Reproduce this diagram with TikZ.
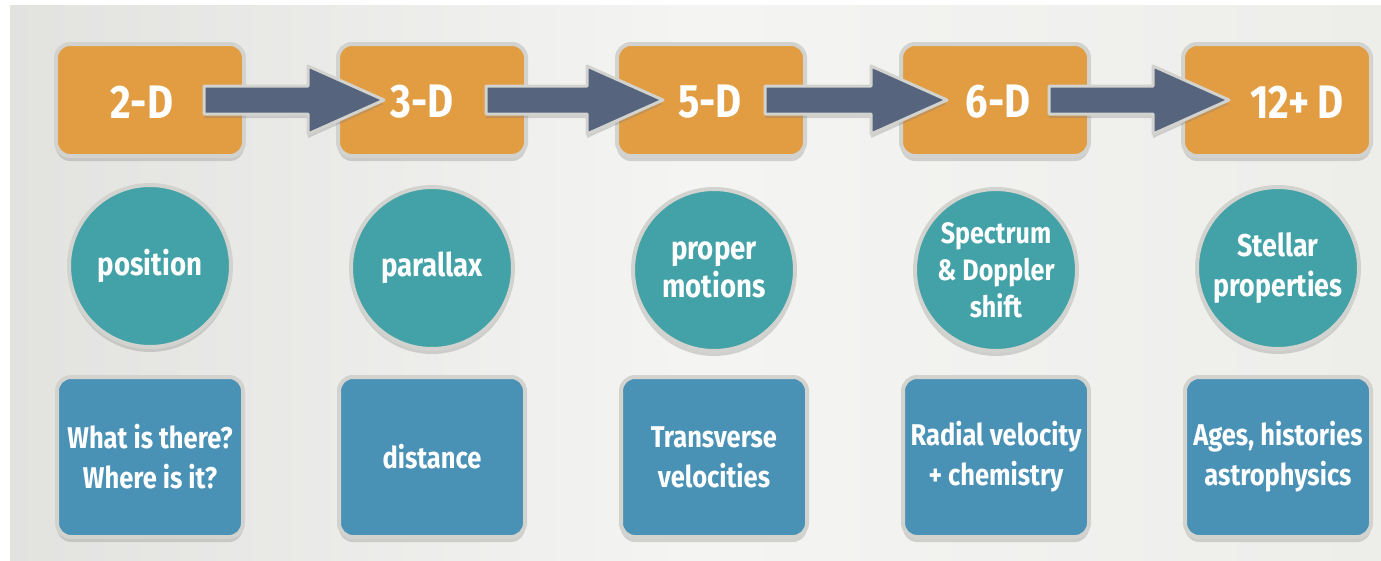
\documentclass[tikz,border=0pt]{standalone}
\usepackage{fontspec}
\setmainfont{Fira Sans}[FakeStretch=0.85]
\usetikzlibrary{shadows,calc}
\definecolor{bg}{HTML}{EDEDEA}
\definecolor{orng}{HTML}{E29C42}
\definecolor{teal2}{HTML}{43A2A7}
\definecolor{blu}{HTML}{4A91B6}
\definecolor{arrc}{HTML}{56647E}
\definecolor{rim}{HTML}{D2D2CF}
\begin{document}
\begin{tikzpicture}[x=1pt,y=-1pt,
  dbox/.style={draw=rim, line width=4pt, fill=orng, rounded corners=14pt,
    minimum width=188pt, minimum height=112pt, inner sep=0pt,
    drop shadow={shadow xshift=0pt, shadow yshift=-5pt, opacity=0.3}},
  dtext/.style={text=white, font=\bfseries\fontsize{47}{52}\selectfont, inner sep=0pt},
  circ/.style={circle, draw=rim, line width=4pt, fill=teal2, minimum size=162pt,
    inner sep=0pt, align=center, text=white,
    font=\bfseries\fontsize{32.5}{38}\selectfont,
    drop shadow={shadow xshift=0pt, shadow yshift=-5pt, opacity=0.3}},
  ibox/.style={draw=rim, line width=4pt, fill=blu, rounded corners=14pt,
    minimum width=186pt, minimum height=160pt, inner sep=0pt, align=center,
    text=white, font=\bfseries\fontsize{30}{40}\selectfont,
    drop shadow={shadow xshift=0pt, shadow yshift=-5pt, opacity=0.3}},
  arrowbody/.style={fill=arrc, draw=rim, line width=3pt, line join=round,
    drop shadow={shadow xshift=0pt, shadow yshift=-4pt, opacity=0.3}}
]
\useasboundingbox (0,0) rectangle (1381,560);
\fill[white] (0,0) rectangle (1381,560);
\shade[left color=bg!90!gray, right color=bg, middle color=bg!60!white] (10,5) rectangle (1381,560);

% dimension boxes
\node[dbox] (d1) at (150,100) {};
\node[dbox] (d2) at (432,100) {};
\node[dbox] (d3) at (711,100) {};
\node[dbox] (d4) at (995,100) {};
\node[dbox] (d5) at (1277,100) {};

% arrows
\foreach \a/\b in {d1/d2, d2/d3, d3/d4, d4/d5}{
  \coordinate (s-\a) at ($(\a.east)+(-42,0)$);
  \coordinate (t-\b) at ($(\b.west)+(48,0)$);
  \draw[arrowbody] ($(s-\a)+(0,-14)$) -- ($(t-\b)+(-76,-14)$) -- ($(t-\b)+(-76,-34)$)
     -- (t-\b) -- ($(t-\b)+(-76,34)$) -- ($(t-\b)+(-76,14)$) -- ($(s-\a)+(0,14)$) -- cycle;
}

% dimension labels
\node[dtext] (l1) at (142,102) {2-D};
\node[dtext] (l2) at (422,102) {3-D};
\node[dtext] (l3) at (710,102) {5-D};
\node[dtext] (l4) at (998,102) {6-D};
\node[dtext] (l5) at (1297,102) {12+\,D};

% circles
\node[circ] (c1) at (150,266) {position};
\node[circ] (c2) at (432,268) {parallax};
\node[circ] (c3) at (714,270) {proper\\motions};
\node[circ, font=\bfseries\fontsize{29.5}{37}\selectfont] (c4) at (996,270) {Spectrum\\\&~Doppler\\shift};
\node[circ, font=\bfseries\fontsize{31.5}{40}\selectfont] (c5) at (1278,268) {Stellar\\properties};

% info boxes
\node[ibox] (b1) at (150,457) {What is there?\\Where is it?};
\node[ibox] (b2) at (432,457) {distance};
\node[ibox] (b3) at (714,457) {Transverse\\velocities};
\node[ibox] (b4) at (996,457) {Radial velocity\\+ chemistry};
\node[ibox] (b5) at (1278,457) {Ages, histories\\astrophysics};
\end{tikzpicture}
\end{document}
